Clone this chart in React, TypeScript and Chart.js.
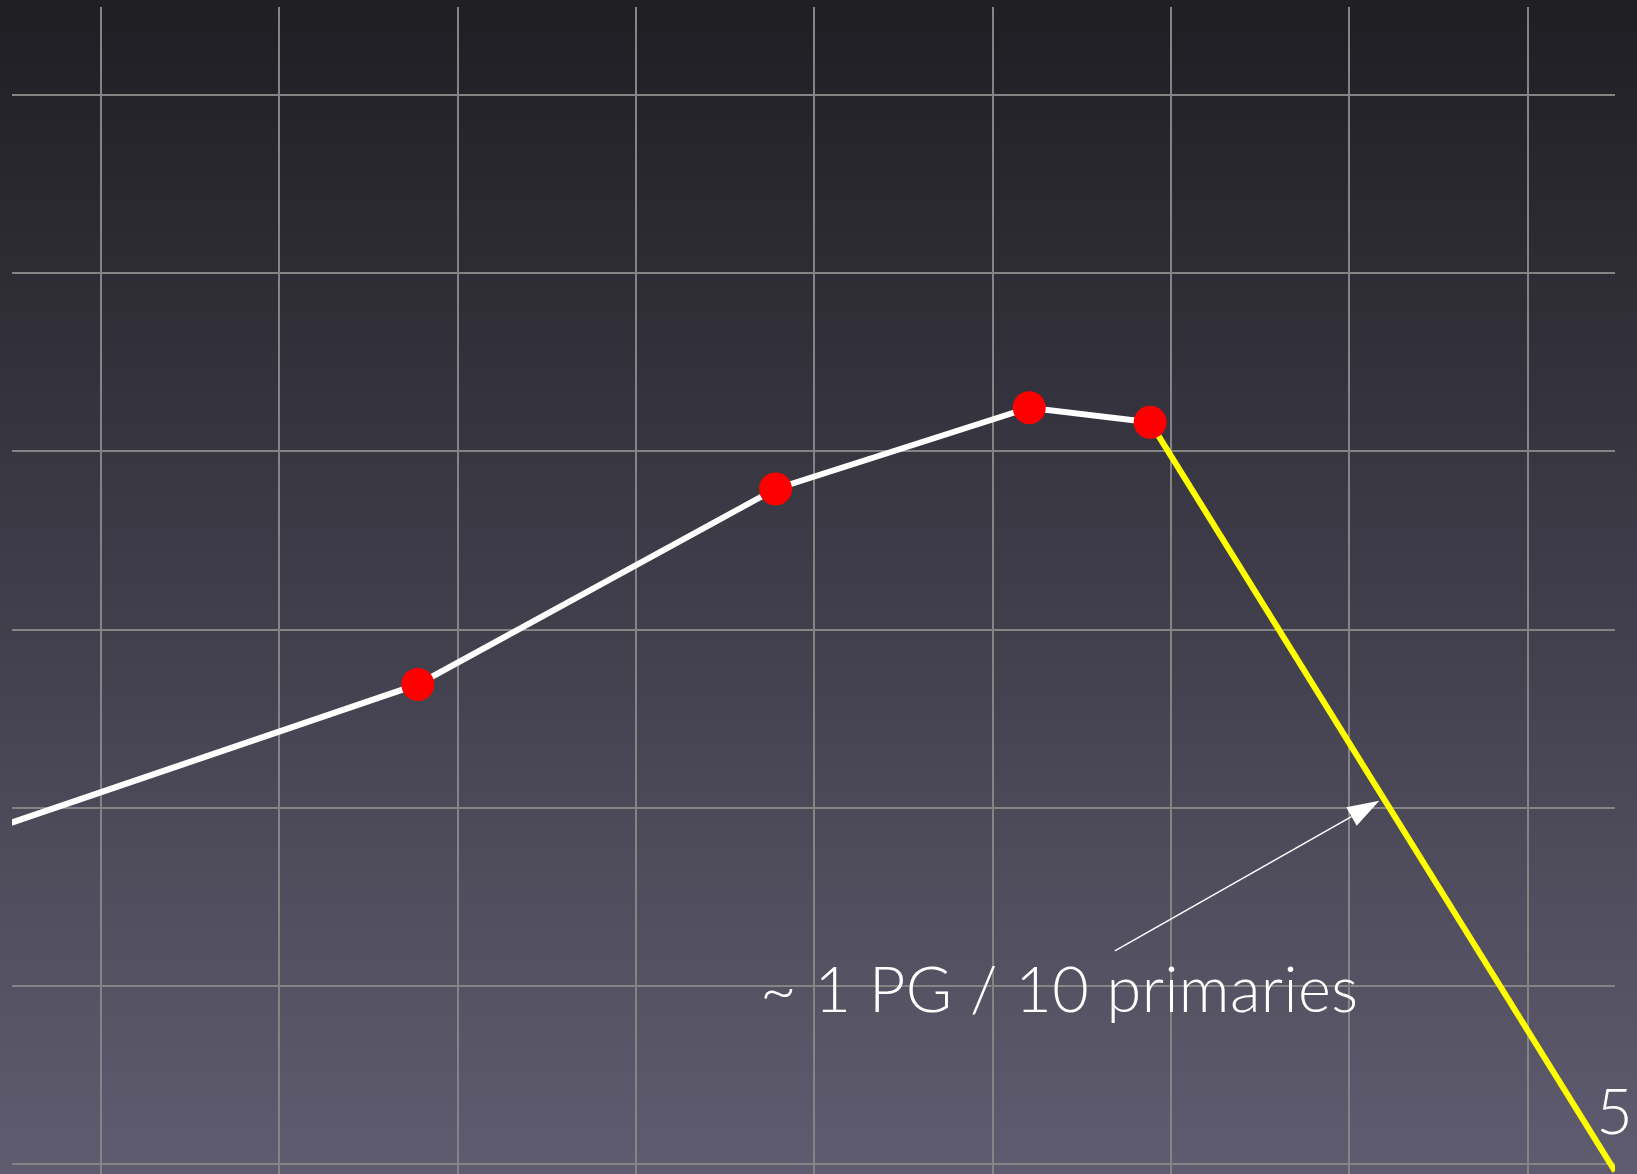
import React, { useEffect, useRef } from "react";
import { Chart, registerables } from "chart.js";

Chart.register(...registerables);

// Grid-unit data (one grid cell = one unit)
const markerX = [1.776, 3.782, 5.205, 5.883];
const markerY = [2.692, 3.789, 4.245, 4.163];

const whiteX = [-0.52, 1.776, 3.782, 5.205, 5.883];
const whiteY = [1.91, 2.692, 3.789, 4.245, 4.163];

const yellowX = [5.883, 8.49];
const yellowY = [4.163, -0.04];

const xRange = [-0.5, 8.49];
const yRange = [-0.056, 6.494];

const annotationText = "~ 1 PG / 10 primaries";
const annotationAt = [3.695, 0.853];
const arrowFrom = [5.685, 1.196];
const arrowTo = [7.168, 2.039];
const cornerLabel = "5";
const cornerLabelAt = [8.385, 0.168];

const toPts = (xs: number[], ys: number[]) => xs.map((x, i) => ({ x, y: ys[i] }));

export default function App() {
  const ref = useRef<HTMLCanvasElement | null>(null);

  useEffect(() => {
    if (!ref.current) return;

    const bgPlugin = {
      id: "bg",
      beforeDraw(chart: any) {
        const { ctx, width, height } = chart;
        const g = ctx.createLinearGradient(0, 0, 0, height);
        g.addColorStop(0, "#1e1e23");
        g.addColorStop(1, "#605c70");
        ctx.save();
        ctx.fillStyle = g;
        ctx.fillRect(0, 0, width, height);
        ctx.restore();
      },
    };

    const annPlugin = {
      id: "ann",
      afterDraw(chart: any) {
        const { ctx } = chart;
        const xs = chart.scales.x;
        const ys = chart.scales.y;
        ctx.save();
        ctx.fillStyle = "#ffffff";
        ctx.font = "300 63px Lato";
        try { (ctx as any).letterSpacing = "0.4px"; } catch (e) {}
        ctx.textAlign = "left";
        ctx.textBaseline = "alphabetic";
        ctx.fillText(annotationText, xs.getPixelForValue(annotationAt[0]), ys.getPixelForValue(annotationAt[1]));
        ctx.fillText(cornerLabel, xs.getPixelForValue(cornerLabelAt[0]), ys.getPixelForValue(cornerLabelAt[1]));
        // arrow
        const x1 = xs.getPixelForValue(arrowFrom[0]);
        const y1 = ys.getPixelForValue(arrowFrom[1]);
        const x2 = xs.getPixelForValue(arrowTo[0]);
        const y2 = ys.getPixelForValue(arrowTo[1]);
        const ang = Math.atan2(y2 - y1, x2 - x1);
        const headLen = 32;
        const headHalf = 10.6;
        const bx = x2 - headLen * Math.cos(ang);
        const by = y2 - headLen * Math.sin(ang);
        ctx.strokeStyle = "#ffffff";
        ctx.lineWidth = 1.5;
        ctx.beginPath();
        ctx.moveTo(x1, y1);
        ctx.lineTo(bx, by);
        ctx.stroke();
        ctx.beginPath();
        ctx.moveTo(x2, y2);
        ctx.lineTo(bx + headHalf * Math.sin(ang), by - headHalf * Math.cos(ang));
        ctx.lineTo(bx - headHalf * Math.sin(ang), by + headHalf * Math.cos(ang));
        ctx.closePath();
        ctx.fill();
        ctx.restore();
      },
    };

    const chart = new Chart(ref.current, {
      type: "line",
      data: {
        datasets: [
          {
            data: toPts(markerX, markerY),
            showLine: false,
            pointRadius: 16.5,
            pointHoverRadius: 16.5,
            pointBackgroundColor: "#ff0000",
            pointBorderWidth: 0,
            borderWidth: 0,
          },
          {
            data: toPts(whiteX, whiteY),
            borderColor: "#ffffff",
            borderWidth: 6,
            pointRadius: 0,
            tension: 0,
            clip: 0,
          },
          {
            data: toPts(yellowX, yellowY),
            borderColor: "#ffff00",
            borderWidth: 6,
            pointRadius: 0,
            tension: 0,
            clip: 0,
          },
        ],
      } as any,
      options: {
        animation: false,
        responsive: false,
        events: [],
        layout: { padding: { left: 12, top: 7, right: 22, bottom: 0 }, autoPadding: false },
        plugins: { legend: { display: false }, tooltip: { enabled: false }, title: { display: false } },
        scales: {
          x: {
            type: "linear",
            min: xRange[0],
            max: xRange[1],
            ticks: { display: false, stepSize: 1, includeBounds: false },
            grid: { color: "#848484", lineWidth: 2, drawTicks: false },
            border: { display: false },
          },
          y: {
            type: "linear",
            min: yRange[0],
            max: yRange[1],
            ticks: { display: false, stepSize: 1, includeBounds: false },
            grid: { color: "#848484", lineWidth: 2, drawTicks: false },
            border: { display: false },
          },
        },
      } as any,
      plugins: [bgPlugin, annPlugin],
    });

    return () => chart.destroy();
  }, []);

  return (
    <div style={{ position: "absolute", left: 0, top: 0, width: 1637, height: 1174 }}>
      <canvas ref={ref} width={1637} height={1174} style={{ display: "block" }} />
    </div>
  );
}
